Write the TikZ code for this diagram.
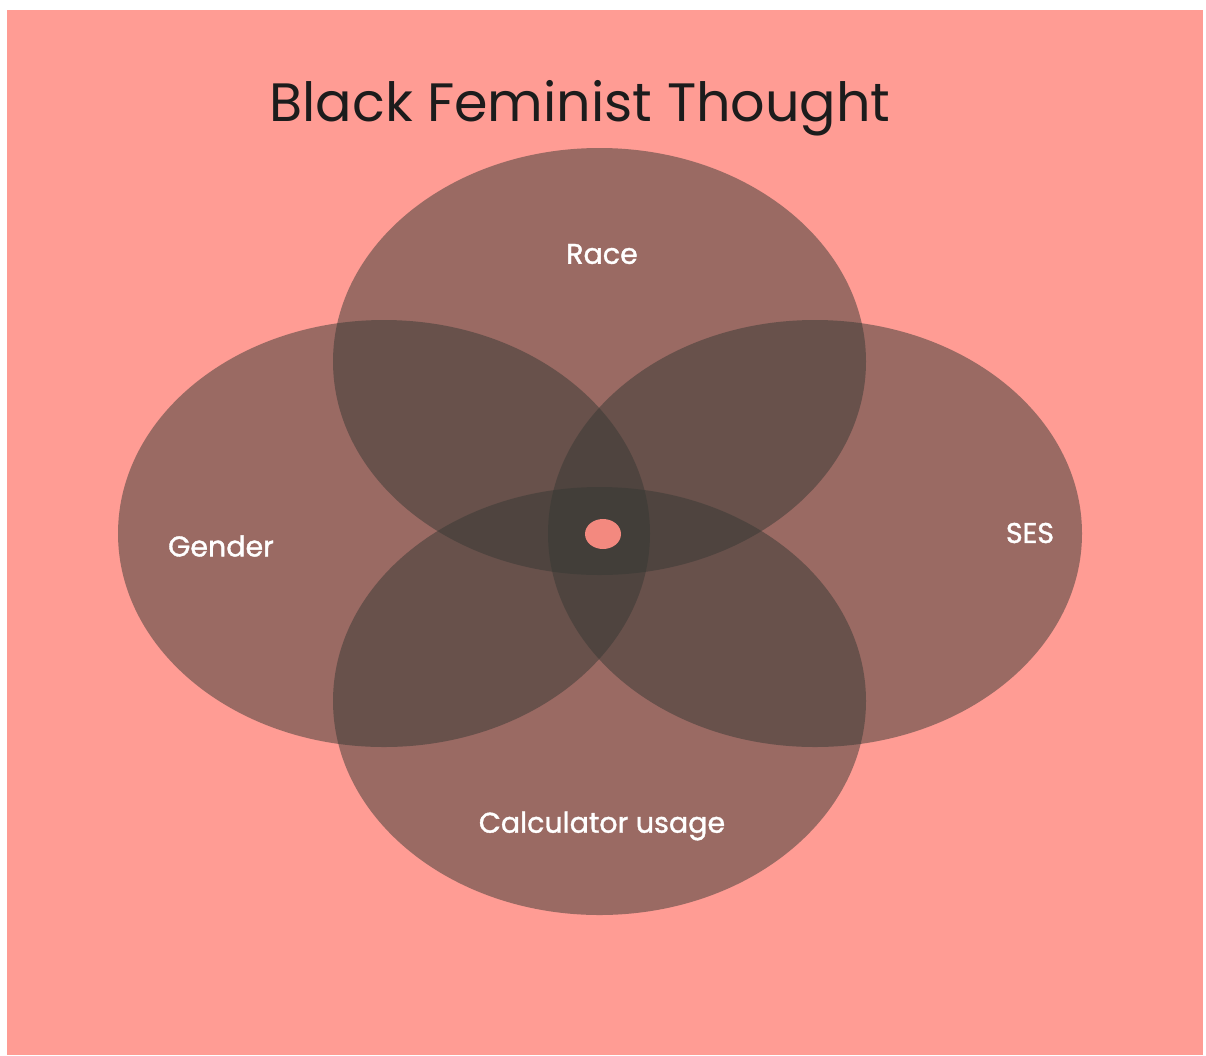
\documentclass[tikz,border=0pt]{standalone}
\usepackage{fontspec}
\setmainfont{Poppins}
\newfontfamily\labfont[FakeBold=1.3]{Poppins}
\definecolor{bgpink}{RGB}{255,156,148}
\definecolor{venn}{RGB}{55,57,52}
\definecolor{dotpink}{RGB}{243,137,127}
\definecolor{titlecol}{RGB}{28,28,28}
\begin{document}
\begin{tikzpicture}[x=1pt,y=-1pt,
  set/.style={fill=venn,fill opacity=0.5,draw=none},
  lab/.style={text=white,font=\labfont\fontsize{28.5}{32}\selectfont,inner sep=0pt}]
\useasboundingbox (0,0) rectangle (1206,1055);
\fill[white] (0,0) rectangle (1206,1055);
\fill[bgpink] (7,10) rectangle (1203,1055);
\node[text=titlecol,font=\fontsize{54}{60}\selectfont,inner sep=0pt] (title) at (580,108) {Black Feminist Thought};
\fill[set] (599.5,361.5) ellipse [x radius=266.5, y radius=213.5];
\fill[set] (384,533.5) ellipse [x radius=266, y radius=213.5];
\fill[set] (815,533.5) ellipse [x radius=267, y radius=213.5];
\fill[set] (599.5,701) ellipse [x radius=266.5, y radius=214];
\fill[dotpink] (603,534) ellipse [x radius=18, y radius=15];
\node[lab] (race) at (602,254) {Race};
\node[lab] (gender) at (221,546) {Gender};
\node[lab] (ses) at (1030,533) {SES};
\node[lab] (calc) at (602,826) {Calculator usage};
\end{tikzpicture}
\end{document}
